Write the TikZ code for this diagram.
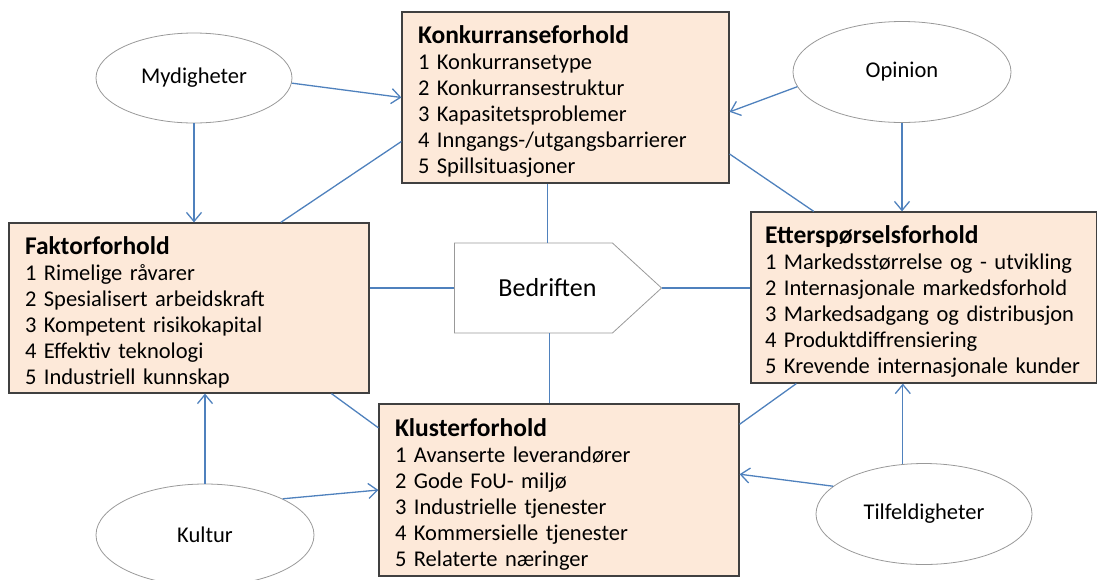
\documentclass[tikz,border=0pt]{standalone}
\usepackage{fontspec}
\setmainfont{Carlito}
\usetikzlibrary{arrows.meta,shapes.geometric,shapes.symbols}
\definecolor{boxfill}{RGB}{253,233,217}
\definecolor{linkblue}{RGB}{79,129,189}
\newcommand\boxhead[1]{{\bfseries\fontsize{25.5}{27}\selectfont\rule{0pt}{26pt}#1}}

\begin{document}
\begin{tikzpicture}[x=1pt,y=-1pt,
  factor/.style={draw=black!75,fill=boxfill,line width=1.2pt,align=left,
    inner xsep=16pt,font=\fontsize{22.5}{26}\selectfont},
  force/.style={ellipse,draw=black!40,line width=0.8pt,inner sep=0pt,
    font=\fontsize{22.5}{26}\selectfont},
  link/.style={linkblue,line width=1.3pt},
  arr/.style={link,-{Straight Barb[length=9pt,width=15pt]}}]
\useasboundingbox (0,0) rectangle (1097,579);

% the four conditions
\node[factor,text width=295pt,minimum height=171pt] (konk) at (565.5,97.5)
  {\boxhead{Konkurranseforhold}\\
   1 Konkurransetype\\ 2 Konkurransestruktur\\ 3 Kapasitetsproblemer\\
   4 Inngangs-/utgangsbarrierer\\ 5 Spillsituasjoner};
\node[factor,text width=328pt,minimum height=170pt] (faktor) at (189,308)
  {\boxhead{Faktorforhold}\\
   1 Rimelige råvarer\\ 2 Spesialisert arbeidskraft\\ 3 Kompetent risikokapital\\
   4 Effektiv teknologi\\ 5 Industriell kunnskap};
\node[factor,inner xsep=14pt,text width=318pt,minimum height=171pt] (etter) at (924,297.5)
  {\boxhead{Etterspørselsforhold}\\
   1 Markedsstørrelse og - utvikling\\ 2 Internasjonale markedsforhold\\
   3 Markedsadgang og distribusjon\\ 4 Produktdiffrensiering\\
   5 Krevende internasjonale kunder};
\node[factor,text width=328pt,minimum height=172pt] (kluster) at (559,490)
  {\boxhead{Klusterforhold}\\
   1 Avanserte leverandører\\ 2 Gode FoU- miljø\\ 3 Industrielle tjenester\\
   4 Kommersielle tjenester\\ 5 Relaterte næringer};

% the firm
\node[signal,signal to=east,signal pointer angle=85,draw=black!40,line width=0.8pt,
  minimum width=207pt,minimum height=90pt,font=\fontsize{26}{28}\selectfont]
  (bedr) at (533.5,288) {\hspace*{28pt}Bedriften};

% outside forces
\node[force,minimum width=196pt,minimum height=90pt] (myd) at (194,78) {Mydigheter};
\node[force,minimum width=218pt,minimum height=101pt] (opinion) at (902,72) {Opinion};
\node[force,minimum width=218pt,minimum height=102pt] (kultur) at (205,535) {Kultur};
\node[force,minimum width=216pt,minimum height=101pt] (tilf) at (924,514) {Tilfeldigheter};

\draw[arr] (myd.-3) -- (konk.west);
\draw[arr] (myd.south) -- (myd.south |- faktor.north);
\draw[arr] (opinion.188) -- (konk.-5);
\draw[arr] (opinion.south) -- (opinion.south |- etter.north);
\draw[arr] (kultur.north) -- (kultur.north |- faktor.south);
\draw[arr] (kultur.25) -- (kluster.west);
\draw[arr] (tilf.163) -- (kluster.5);
\draw[arr] (tilf.113) -- (tilf.113 |- etter.south);

\draw[link] (konk.195.2) -- (faktor.43);
\draw[link] (konk.-19.9) -- (etter.142.6);
\draw[link] (faktor.-31.4) -- (kluster.161);
\draw[link] (etter.214) -- (kluster.20.7);
\draw[link] ([xshift=14pt]bedr.north) -- ([xshift=14pt]bedr.north |- konk.south);
\draw[link] ([xshift=16pt]bedr.south) -- ([xshift=16pt]bedr.south |- kluster.north);
\draw[link] (bedr.west) -- (bedr.west -| faktor.east);
\draw[link] (bedr.east) -- (bedr.east -| etter.west);
\end{tikzpicture}
\end{document}
